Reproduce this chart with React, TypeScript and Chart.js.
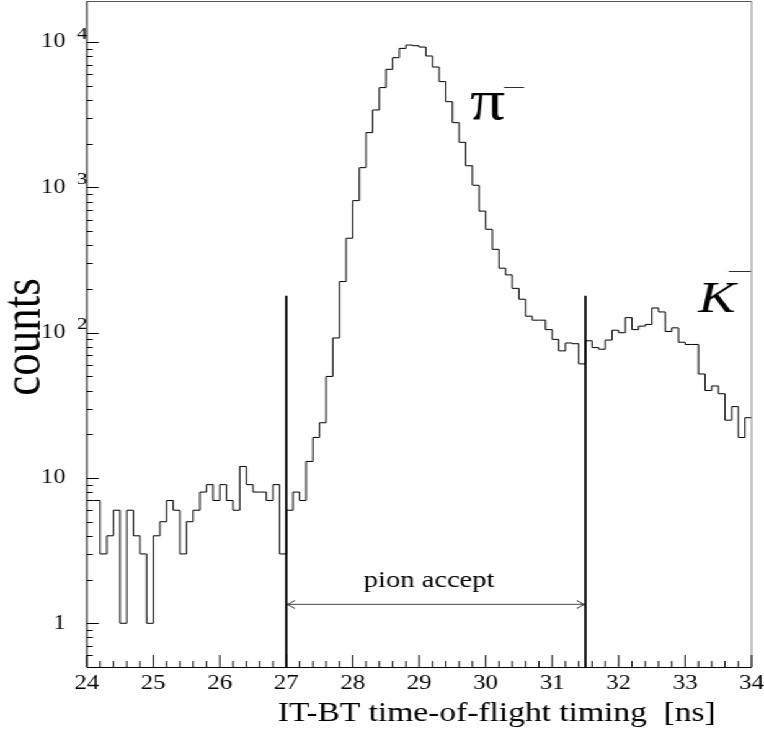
import React, { useEffect, useRef } from 'react';
import { Chart, registerables } from 'chart.js';

Chart.register(...registerables);

// ---- data -------------------------------------------------------------
const binStart = 24.0;
const binWidth = 0.1;
// counts per 0.1 ns bin, 24.0 ... 34.0 ns
const binCounts = [
  7, 7, 3, 4, 6, 1, 6, 4, 3, 1,
  4, 5, 7, 6, 3, 5, 6, 8, 9, 7,
  9, 7, 6, 12, 9, 8, 8, 7, 9, 3,
  6, 8, 7, 13, 19, 24, 50, 92, 225, 447,
  811, 1368, 2384, 3413, 4866, 6501, 7820, 9058, 9550, 9450,
  9250, 8030, 6745, 5350, 3893, 2791, 2045, 1410, 1035, 687,
  515, 375, 278, 250, 202, 170, 130, 122, 122, 105,
  90, 75, 85, 84, 61, 88, 79, 77, 89, 104,
  100, 127, 105, 111, 114, 148, 139, 102, 108, 86,
  83, 83, 52, 40, 43, 38, 25, 31, 19, 26,
];

const xMajorTicks = [24, 25, 26, 27, 28, 29, 30, 31, 32, 33, 34];
const xMinorStep = 0.2;
const yMajorTicks = [1, 10, 100, 1000, 10000];
const yTickBase = ['1', '10', '10', '10', '10'];
const yTickExp = ['', '', '2', '3', '4'];
const yMinorMantissas = [2, 3, 4, 5, 6, 7, 8, 9];
const yMinorBelowOne = [0.6, 0.7, 0.8, 0.9];

const cutLines = [27.0, 31.5];
const cutTop = 180;
const arrowLevel = 1.35;
const acceptLabelX = 29.15;
const xMin = 24, xMax = 34, yMin = 0.5, yMax = 19200;

const xTitle = 'IT-BT time-of-flight timing  [ns]';
const yTitle = 'counts';
const acceptLabel = 'pion accept';

// ---- layout constants (internal canvas units, stretched horizontally) ---
const W = 616, H = 734;
const STRETCH = 764 / W;
const SERIF = '"Liberation Serif", "Times New Roman", serif';

const histPoints = binCounts.map((v, i) => ({ x: +(binStart + i * binWidth).toFixed(2), y: v }));
histPoints.push({ x: binStart + binCounts.length * binWidth, y: binCounts[binCounts.length - 1] });

const decorPlugin = {
  id: 'decor',
  afterDraw(chart: any) {
    const { ctx, chartArea: ca, scales } = chart;
    const xs = scales.x, ys = scales.y;
    ctx.save();
    // frame
    ctx.lineWidth = 1;
    ctx.strokeStyle = '#000';
    ctx.beginPath();
    ctx.moveTo(ca.left, ca.top);
    ctx.lineTo(ca.left, ca.bottom + 0.5);
    ctx.lineTo(ca.right, ca.bottom + 0.5);
    ctx.stroke();
    ctx.strokeStyle = '#555';
    ctx.beginPath();
    ctx.moveTo(ca.left, ca.top + 0.5);
    ctx.lineTo(ca.right, ca.top + 0.5);
    ctx.stroke();
    ctx.strokeStyle = '#888';
    ctx.beginPath();
    ctx.moveTo(ca.right, ca.top);
    ctx.lineTo(ca.right, ca.bottom);
    ctx.stroke();

    // x ticks (inside)
    ctx.strokeStyle = '#000';
    ctx.beginPath();
    for (let v = xMin; v <= xMax + 1e-9; v += xMinorStep) {
      const vv = Math.round(v * 10) / 10;
      const major = Math.abs(vv - Math.round(vv)) < 1e-6;
      const px = xs.getPixelForValue(vv);
      ctx.moveTo(px, ca.bottom);
      ctx.lineTo(px, ca.bottom - (major ? 12 : 6));
    }
    // y ticks (inside)
    const minorVals: number[] = [...yMinorBelowOne];
    [1, 10, 100, 1000].forEach((d) => yMinorMantissas.forEach((m) => minorVals.push(m * d)));
    minorVals.forEach((v) => {
      if (v > yMax) return;
      const py = Math.round(ys.getPixelForValue(v)) + 0.5;
      ctx.moveTo(ca.left, py);
      ctx.lineTo(ca.left + 4.8, py);
    });
    yMajorTicks.forEach((v) => {
      const py = Math.round(ys.getPixelForValue(v)) + 0.5;
      ctx.moveTo(ca.left, py);
      ctx.lineTo(ca.left + 9.7, py);
    });
    ctx.stroke();

    // exponents of y labels
    ctx.fillStyle = '#000';
    ctx.font = `17px ${SERIF}`;
    ctx.textAlign = 'left';
    ctx.textBaseline = 'middle';
    yMajorTicks.forEach((v, i) => {
      if (!yTickExp[i]) return;
      const py = ys.getPixelForValue(v);
      ctx.fillText(yTickExp[i], ca.left - 8, py - 8);
    });

    // arrow heads
    const ay = Math.round(ys.getPixelForValue(arrowLevel)) + 0.5;
    const lx = xs.getPixelForValue(cutLines[0]) + 1;
    const rx = xs.getPixelForValue(cutLines[1]) - 1;
    ctx.strokeStyle = '#333';
    ctx.lineWidth = 1;
    ctx.beginPath();
    ctx.moveTo(lx + 6, ay - 4);
    ctx.lineTo(lx, ay);
    ctx.lineTo(lx + 6, ay + 4);
    ctx.moveTo(rx - 6, ay - 4);
    ctx.lineTo(rx, ay);
    ctx.lineTo(rx - 6, ay + 4);
    ctx.stroke();

    // labels
    ctx.fillStyle = '#000';
    ctx.textBaseline = 'alphabetic';
    ctx.textAlign = 'center';
    ctx.font = `23px ${SERIF}`;
    ctx.fillText(acceptLabel, xs.getPixelForValue(acceptLabelX), 587);

    // pi minus
    ctx.textAlign = 'left';
    ctx.font = `56px ${SERIF}`;
    ctx.fillText('π', 379, 119);
    ctx.font = `16px ${SERIF}`;
    ctx.fillText('—', 406.5, 91.3);
    // K minus
    ctx.font = `italic 45px ${SERIF}`;
    ctx.fillText('K', 563, 312);
    ctx.font = `17.5px ${SERIF}`;
    ctx.fillText('—', 587.8, 275);

    // axis titles
    ctx.font = `27px ${SERIF}`;
    ctx.textAlign = 'left';
    ctx.fillText(xTitle, 224, 721);

    ctx.save();
    ctx.translate(32, 337);
    ctx.rotate(-Math.PI / 2);
    ctx.textAlign = 'center';
    ctx.font = `45px ${SERIF}`;
    ctx.fillText(yTitle, 0, 0);
    ctx.restore();

    ctx.restore();
  },
};

export default function App() {
  const ref = useRef<HTMLCanvasElement | null>(null);
  useEffect(() => {
    if (!ref.current) return;
    const chart = new Chart(ref.current, {
      type: 'line',
      data: {
        datasets: [
          {
            data: histPoints,
            stepped: true,
            borderColor: '#000',
            borderWidth: 1,
            pointRadius: 0,
            fill: false,
          },
          ...cutLines.map((c) => ({
            data: [{ x: c, y: yMin }, { x: c, y: cutTop }],
            borderColor: '#000',
            borderWidth: 1.8,
            pointRadius: 0,
            fill: false,
          })),
          {
            data: [{ x: cutLines[0], y: arrowLevel }, { x: cutLines[1], y: arrowLevel }],
            borderColor: '#444',
            borderWidth: 1,
            pointRadius: 0,
            fill: false,
          },
        ],
      },
      options: {
        animation: false,
        responsive: false,
        devicePixelRatio: 1,
        layout: { padding: { left: 0, right: 10, top: 1, bottom: 0 } },
        plugins: { legend: { display: false }, tooltip: { enabled: false } },
        scales: {
          x: {
            type: 'linear',
            min: xMin,
            max: xMax,
            afterFit: (s: any) => { s.height = 67; s.paddingLeft = 0; s.paddingRight = 0; },
            afterBuildTicks: (axis: any) => { axis.ticks = xMajorTicks.map((v) => ({ value: v })); },
            grid: { display: false, drawTicks: false },
            border: { display: false },
            ticks: {
              autoSkip: false,
              maxRotation: 0,
              padding: 5,
              color: '#000',
              font: { family: SERIF, size: 20 },
            },
          },
          y: {
            type: 'logarithmic',
            min: yMin,
            max: yMax,
            afterFit: (s: any) => { s.width = 70; s.paddingTop = 0; s.paddingBottom = 0; },
            afterBuildTicks: (axis: any) => { axis.ticks = yMajorTicks.map((v) => ({ value: v })); },
            grid: { display: false, drawTicks: false },
            border: { display: false },
            ticks: {
              autoSkip: false,
              padding: 17,
              color: '#000',
              font: { family: SERIF, size: 20 },
              callback: (v: any) => {
                const i = yMajorTicks.indexOf(Number(v));
                return i >= 0 ? yTickBase[i] : '';
              },
            },
          },
        },
      },
      plugins: [decorPlugin],
    } as any);
    return () => chart.destroy();
  }, []);

  return (
    <div
      style={{
        position: 'absolute',
        left: 0,
        top: 0,
        width: W,
        height: H,
        transform: `scale(${STRETCH}, 1)`,
        transformOrigin: '0 0',
        background: '#fff',
      }}
    >
      <canvas ref={ref} width={W} height={H} />
    </div>
  );
}
